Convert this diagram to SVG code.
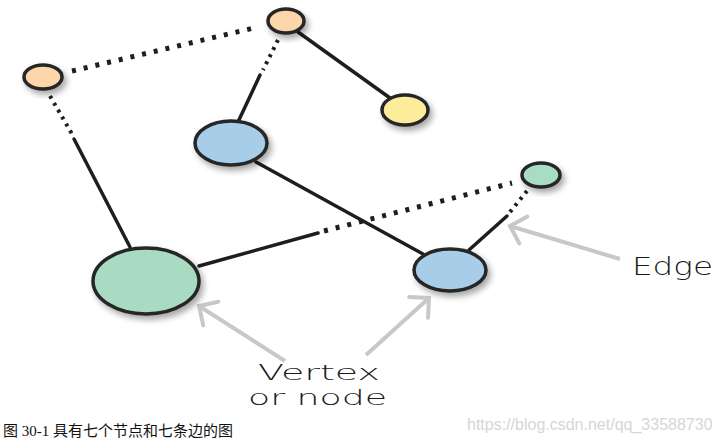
<svg xmlns="http://www.w3.org/2000/svg" width="719" height="441" viewBox="0 0 719 441">
<defs>
<filter id="sh" x="-30%" y="-30%" width="170%" height="170%">
<feGaussianBlur in="SourceAlpha" stdDeviation="3"/>
<feOffset dx="3" dy="4" result="b"/>
<feComponentTransfer><feFuncA type="linear" slope="0.35"/></feComponentTransfer>
<feMerge><feMergeNode/><feMergeNode in="SourceGraphic"/></feMerge>
</filter>
<marker id="ah" viewBox="0 0 22 40" refX="19" refY="20" markerWidth="22" markerHeight="40" markerUnits="userSpaceOnUse" orient="auto">
<path d="M5,6 L19,20 L5,34" fill="none" stroke="#c8c8c8" stroke-width="4" stroke-linecap="round"/>
</marker>
</defs>
<style>
.n{stroke:#262626;stroke-width:3.5;filter:url(#sh)}
.s{stroke:#1e1e1e;stroke-width:3.5;fill:none;stroke-linecap:round}
.d{stroke:#1e1e1e;stroke-width:5;fill:none;stroke-dasharray:4 8}
.t{stroke:#1e1e1e;stroke-width:4;fill:none;stroke-dasharray:3 5}
.g{stroke:#c8c8c8;stroke-width:4;fill:none;marker-end:url(#ah)}
.lbl{font-family:"DejaVu Sans",sans-serif;font-weight:300;fill:#1a1a1a}
</style>
<rect width="719" height="441" fill="#fff"/>
<g id="connectors">
<line class="d" x1="72" y1="71" x2="258" y2="27"/>
<line class="t" x1="278" y1="40" x2="263" y2="70"/>
<line class="s" x1="260" y1="75" x2="238" y2="122"/>
<line class="s" x1="298" y1="32" x2="390" y2="98"/>
<line class="t" x1="50" y1="96" x2="72" y2="134"/>
<line class="s" x1="74" y1="139" x2="130" y2="247"/>
<line class="s" x1="256" y1="162" x2="423" y2="254"/>
<line class="s" x1="199" y1="266" x2="318" y2="233"/>
<line class="d" x1="324" y1="231" x2="512" y2="183"/>
<line class="t" x1="527" y1="191" x2="510" y2="212"/>
<line class="s" x1="507" y1="216" x2="469" y2="250"/>
<line class="g" x1="620" y1="259" x2="510" y2="226"/>
<line class="g" x1="285" y1="361" x2="199" y2="306"/>
<line class="g" x1="366" y1="355" x2="429" y2="298"/>
</g>
<g id="nodeA"><ellipse class="n" cx="43" cy="77" rx="19" ry="12" fill="#fdd6aa"/></g>
<g id="nodeB"><ellipse class="n" cx="286" cy="21" rx="18" ry="12" fill="#fdd6aa"/></g>
<g id="nodeC"><ellipse class="n" cx="405" cy="110" rx="23" ry="15" fill="#fdec9c"/></g>
<g id="nodeD"><ellipse class="n" cx="231" cy="143" rx="36" ry="22" fill="#a8cde9"/></g>
<g id="nodeE"><ellipse class="n" cx="541" cy="175" rx="19" ry="12" fill="#a8dcc4"/></g>
<g id="nodeF"><ellipse class="n" cx="146" cy="281" rx="53" ry="33" fill="#a8dbc2"/></g>
<g id="nodeG"><ellipse class="n" cx="450" cy="270" rx="36" ry="21" fill="#a8cde9"/></g>
<g id="labels">
<text class="lbl" x="632" y="275" font-size="24" textLength="81" lengthAdjust="spacingAndGlyphs">Edge</text>
<text class="lbl" x="258" y="380" font-size="22" textLength="122" lengthAdjust="spacingAndGlyphs">Vertex</text>
<text class="lbl" x="248" y="405" font-size="22" textLength="139" lengthAdjust="spacingAndGlyphs">or node</text>
<text x="3" y="436" font-family="'Liberation Serif','Noto Sans CJK SC',serif" font-size="15" fill="#111">图 30-1 具有七个节点和七条边的图</text>
<text x="467" y="430" font-family="'Liberation Sans',sans-serif" font-size="16" fill="#d6d6d6">https://blog.csdn.net/qq_33588730</text>
</g>
</svg>
